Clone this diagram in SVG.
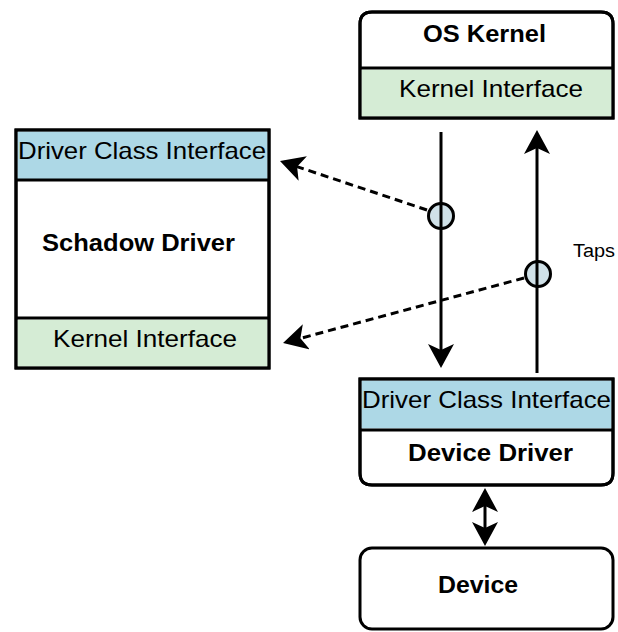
<svg xmlns="http://www.w3.org/2000/svg" width="618" height="632" viewBox="0 0 618 632">
  <style>
    .box { stroke: #000; stroke-width: 3; }
    .white { fill: #fff; }
    .blue { fill: #add8e6; }
    .green { fill: #d5ecd5; }
    .div { stroke: #000; stroke-width: 3; fill: none; }
    .t { font-family: "Liberation Sans", Arial, sans-serif; font-size: 24px; fill: #000; }
    .b { font-weight: bold; }
    .conn { stroke: #000; stroke-width: 3; fill: none; }
    .dash { stroke-dasharray: 8 5; }
    .tap { fill: #d0e1e8; stroke: #000; stroke-width: 3; }
  </style>
  <defs>
    <marker id="ah" viewBox="0 0 24 26" refX="20" refY="13" markerWidth="24" markerHeight="26" markerUnits="userSpaceOnUse" orient="auto-start-reverse">
      <path d="M24,13 L0,0 L6,13 L0,26 Z" fill="#000"/>
    </marker>
  </defs>

  <rect width="618" height="632" fill="#fff"/>

  <g id="os-kernel">
    <path class="box white" d="M360,118 V24 Q360,12 372,12 H601 Q613,12 613,24 V118 Z"/>
    <rect class="green" x="361.5" y="69.5" width="250" height="47"/>
    <line class="div" x1="360" y1="68" x2="613" y2="68"/>
    <path class="div" d="M360,118 V24 Q360,12 372,12 H601 Q613,12 613,24 V118 Z"/>
    <text class="t b" x="423" y="42" textLength="123" lengthAdjust="spacingAndGlyphs">OS Kernel</text>
    <text class="t" x="399" y="97" textLength="184" lengthAdjust="spacingAndGlyphs">Kernel Interface</text>
  </g>

  <g id="shadow-driver">
    <rect class="box white" x="16" y="130" width="253" height="238"/>
    <rect class="blue" x="17.5" y="131.5" width="250" height="48"/>
    <rect class="green" x="17.5" y="319.5" width="250" height="47"/>
    <line class="div" x1="16" y1="180" x2="269" y2="180"/>
    <line class="div" x1="16" y1="318" x2="269" y2="318"/>
    <rect class="div" x="16" y="130" width="253" height="238"/>
    <text class="t" x="18" y="159" textLength="248" lengthAdjust="spacingAndGlyphs">Driver Class Interface</text>
    <text class="t b" x="42" y="251" textLength="193" lengthAdjust="spacingAndGlyphs">Schadow Driver</text>
    <text class="t" x="53" y="347" textLength="184" lengthAdjust="spacingAndGlyphs">Kernel Interface</text>
  </g>

  <g id="device-driver">
    <path class="box white" d="M360,379 H613 V473 Q613,485 601,485 H372 Q360,485 360,473 Z"/>
    <rect class="blue" x="361.5" y="380.5" width="250" height="48"/>
    <line class="div" x1="360" y1="430" x2="613" y2="430"/>
    <path class="div" d="M360,379 H613 V473 Q613,485 601,485 H372 Q360,485 360,473 Z"/>
    <text class="t" x="362" y="408" textLength="249" lengthAdjust="spacingAndGlyphs">Driver Class Interface</text>
    <text class="t b" x="408" y="461" textLength="165" lengthAdjust="spacingAndGlyphs">Device Driver</text>
  </g>

  <g id="device">
    <rect class="box white" x="360" y="548" width="253" height="81" rx="12" ry="12"/>
    <text class="t b" x="438" y="593" textLength="80" lengthAdjust="spacingAndGlyphs">Device</text>
  </g>

  <g id="taps-label">
    <text class="t" x="573" y="257" style="font-size:18px" textLength="42" lengthAdjust="spacingAndGlyphs">Taps</text>
  </g>

  <g id="connectors">
    <circle class="tap" cx="441" cy="216" r="12.5"/>
    <circle class="tap" cx="538" cy="274" r="12.5"/>
    <line class="conn" x1="441" y1="132" x2="441" y2="364" marker-end="url(#ah)"/>
    <line class="conn" x1="537" y1="373" x2="537" y2="134" marker-end="url(#ah)"/>
    <line class="conn dash" x1="427" y1="210" x2="283.8" y2="162.2" marker-end="url(#ah)"/>
    <line class="conn dash" x1="524" y1="278" x2="286.9" y2="342" marker-end="url(#ah)"/>
    <line class="conn" x1="485" y1="492" x2="485" y2="542" marker-start="url(#ah)" marker-end="url(#ah)"/>
  </g>
</svg>
